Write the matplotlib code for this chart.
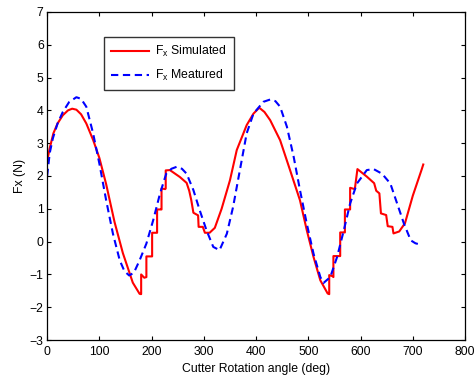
import matplotlib
matplotlib.use("Agg")
import matplotlib.pyplot as plt

plt.rcParams['font.family'] = ['Liberation Sans', 'DejaVu Sans']
plt.rcParams['mathtext.fontset'] = 'custom'
plt.rcParams['mathtext.rm'] = 'Liberation Sans'

# Simulated Fx (red, solid)
sim_x = [0, 5, 12, 20, 30, 40, 48, 56, 65, 75, 88, 100, 113, 129, 145, 164, 177,
         180, 180, 186, 190, 190, 199, 201, 201, 209, 210.5, 210.5, 218, 219, 219, 226, 227, 227, 235,
         254, 267, 272, 276, 280, 289, 290, 298, 302, 311, 321,
         334, 350, 363, 382, 395, 406, 416, 427, 446, 465, 484, 497, 510, 523, 537,
         540, 540, 546, 548, 548, 559, 561, 561, 569, 570, 570, 579, 580, 580, 589, 594,
         612, 626, 630, 636, 639, 649, 652, 661, 663, 674, 685, 700, 717, 720]
sim_y = [2.45, 2.85, 3.3, 3.6, 3.85, 4.0, 4.05, 4.02, 3.88, 3.6, 3.1, 2.55, 1.75, 0.6, -0.35, -1.25, -1.59,
         -1.6, -1.0, -1.1, -1.08, -0.45, -0.45, -0.45, 0.27, 0.27, 0.27, 0.98, 0.98, 0.98, 1.62, 1.6, 1.62, 2.17, 2.18,
         1.97, 1.79, 1.55, 1.26, 0.88, 0.8, 0.45, 0.45, 0.27, 0.27, 0.42,
         1.0, 1.87, 2.79, 3.55, 3.9, 4.08, 3.95, 3.7, 3.09, 2.18, 1.26, 0.35, -0.47, -1.18, -1.58,
         -1.6, -1.02, -1.05, -1.08, -0.44, -0.44, -0.44, 0.28, 0.28, 0.28, 0.98, 0.98, 0.98, 1.64, 1.6, 2.21,
         1.98, 1.78, 1.55, 1.47, 0.86, 0.81, 0.47, 0.45, 0.25, 0.31, 0.56, 1.4, 2.2, 2.35]

# Measured Fx (blue, dashed)
meas_x = [0, 5, 11, 20, 30, 42, 56, 65, 75, 88, 100, 113, 126, 139, 148, 157, 166, 177, 190, 203, 216,
          228, 238, 248, 258, 267, 280, 292, 305, 318, 330, 344, 356, 369, 382, 395, 414, 427, 437,
          446, 459, 472, 484, 497, 510, 523, 529, 542, 555, 568, 580, 593, 612, 625, 641, 657, 670,
          683, 696, 705, 712]
meas_y = [2.0, 2.7, 3.15, 3.6, 3.95, 4.25, 4.4, 4.35, 4.11, 3.3, 2.38, 1.26, 0.24, -0.57, -0.9, -1.03, -0.95,
          -0.57, -0.06, 0.65, 1.46, 2.07, 2.22, 2.28, 2.22, 2.07, 1.57, 0.96, 0.35, -0.16, -0.26, 0.24, 1.06,
          2.18, 3.3, 3.9, 4.26, 4.33, 4.28, 4.11, 3.5, 2.58, 1.57, 0.55, -0.37, -1.08, -1.26, -1.08, -0.47,
          0.35, 1.16, 1.77, 2.18, 2.21, 2.07, 1.77, 1.16, 0.55, 0.04, -0.05, -0.08]

x_ticks = [0, 100, 200, 300, 400, 500, 600, 700, 800]
y_ticks = [-3, -2, -1, 0, 1, 2, 3, 4, 5, 6, 7]

FS = 8.8

fig = plt.figure(figsize=(4.76, 3.83), dpi=100)
ax = fig.add_axes([0.099, 0.112, 0.878, 0.857])

ax.plot(sim_x, sim_y, color='#ff0000', lw=1.5, label=r'F$_\mathregular{x}$ Simulated')
ax.plot(meas_x, meas_y, color='#0000ff', lw=1.5, ls=(0, (3.5, 2.2)), label=r'F$_\mathregular{x}$ Meatured')

ax.set_xlim(0, 800)
ax.set_ylim(-3, 7)
ax.set_xticks(x_ticks)
ax.set_yticks(y_ticks)
ax.tick_params(direction='in', top=True, right=True, labelsize=FS, length=3, width=0.8, pad=2.5)
ax.tick_params(axis='x', pad=4.5)
for s in ax.spines.values():
    s.set_linewidth(0.9)
ax.set_xlabel('Cutter Rotation angle (deg)', fontsize=FS, labelpad=3)
ax.set_ylabel('Fx (N)', fontsize=FS, labelpad=3)

leg = ax.legend(loc='upper left', bbox_to_anchor=(0.136, 0.924), fontsize=FS, frameon=True,
                fancybox=False, edgecolor='black', handlelength=3.1, handletextpad=0.5,
                borderpad=0.6, labelspacing=0.7, borderaxespad=0)
leg.get_frame().set_linewidth(1.0)

fig.savefig('out.png', dpi=100)
